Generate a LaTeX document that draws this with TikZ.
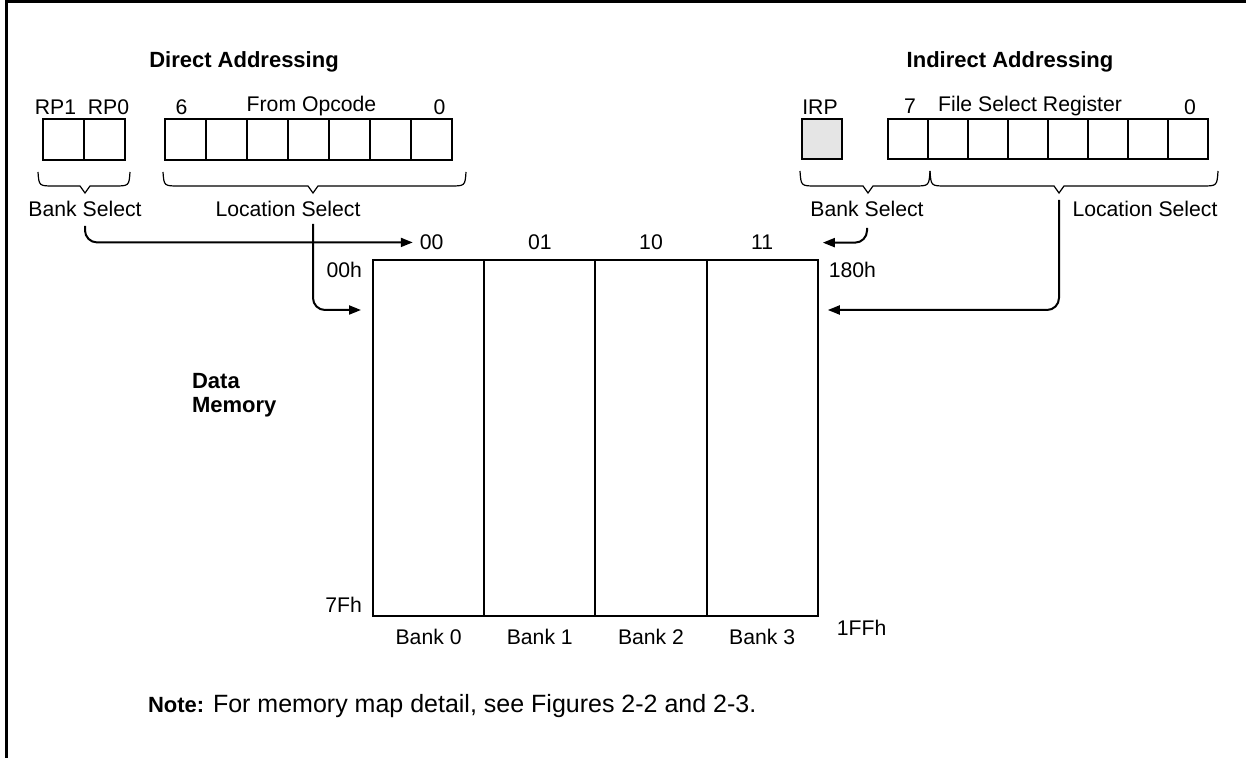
\documentclass[tikz,border=0pt]{standalone}
\usepackage{fontspec}
\setmainfont{Liberation Sans}
\usetikzlibrary{arrows.meta, positioning, calc}

\begin{document}
\begin{tikzpicture}[
    x=0.5pt, y=-0.5pt,
    font=\fontsize{10.6}{12.7}\selectfont,
    cell/.style={draw, line width=1pt, minimum width=20.5pt, minimum height=20.5pt, inner sep=0pt, outer sep=0pt, fill=#1},
    cell/.default=white,
    fcell/.style={cell=#1, minimum width=20pt, minimum height=20pt},
    fcell/.default=white,
    bank/.style={draw, line width=1pt, minimum width=55.6pt, minimum height=178pt, inner sep=0pt, outer sep=0pt},
    title/.style={font=\fontsize{11}{13}\selectfont\bfseries},
    arr/.style={-{Triangle[length=6pt, width=4.5pt]}, line width=1pt, rounded corners=6pt},
    brc/.style={line width=0.6pt},
    frame/.style={line width=1.5pt},
]
\useasboundingbox (0,0) rectangle (1246,758);

% Frame
\draw[frame] (1246,2) -- (6,2) -- (6,758);

% Titles
\node[title] (dtitle) at (244,62) {Direct Addressing};
\node[title] (ititle) at (1010,62) {Indirect Addressing};

% Direct addressing registers
\node[cell, anchor=north west] (rp1) at (43,119) {};
\node[cell, right=0pt of rp1] (rp0) {};
\node[cell, anchor=north west] (o6) at (165,119) {};
\node[cell, right=0pt of o6] (o5) {};
\node[cell, right=0pt of o5] (o4) {};
\node[cell, right=0pt of o4] (o3) {};
\node[cell, right=0pt of o3] (o2) {};
\node[cell, right=0pt of o2] (o1) {};
\node[cell, right=0pt of o1] (o0) {};

\node[above=-1.5pt of rp1, xshift=-4pt] (lrp1) {RP1};
\node[above=-1.5pt of rp0, xshift=2pt] (lrp0) {RP0};
\node[above=-1.5pt of o6, xshift=-2pt] (lo6) {6};
\node[above=0pt of o3, xshift=1.5pt, text depth=0pt] (lop) {From Opcode};
\node[above=-1.5pt of o0, xshift=4pt] (lo0) {0};

% Indirect addressing registers
\node[fcell=black!10, anchor=north west] (irp) at (802,119) {};
\node[fcell, anchor=north west] (f7) at (888,119) {};
\node[fcell, right=0pt of f7] (f6) {};
\node[fcell, right=0pt of f6] (f5) {};
\node[fcell, right=0pt of f5] (f4) {};
\node[fcell, right=0pt of f4] (f3) {};
\node[fcell, right=0pt of f3] (f2) {};
\node[fcell, right=0pt of f2] (f1) {};
\node[fcell, right=0pt of f1] (f0) {};

\node[above=-1.5pt of irp, xshift=-1pt] (lirp) {IRP};
\node[above=-1pt of f7, xshift=1pt] (lf7) {7};
\node[above=0pt of f4, xshift=1pt, text depth=0pt] (lfsr) {File Select Register};
\node[above=-1.5pt of f0, xshift=1pt] (lf0) {0};

% Braces
\draw[brc] (38,172) .. controls (39,186) .. (54,186) -- (80,186) -- (85,193) -- (90,186) -- (114,186) .. controls (129,186) .. (130,172);
\draw[brc] (163,172) .. controls (164,186) .. (179,186) -- (308,186) -- (313,193) -- (318,186) -- (450,186) .. controls (465,186) .. (466,172);
\draw[brc] (800,171) .. controls (801,186) .. (816,186) -- (863,186) -- (868,193) -- (873,186) -- (914,186) .. controls (929,186) .. (930,171);
\draw[brc] (930,171) .. controls (931,186) .. (946,186) -- (1054,186) -- (1059,193) -- (1064,186) -- (1202,186) .. controls (1217,186) .. (1218,171);
\coordinate (tipL) at (313,193);
\coordinate (tipR) at (1059,193);

\node (bsL) at (85,209) {Bank Select};
\node (lsL) at (288,209) {Location Select};
\node (bsR) at (867,209) {Bank Select};
\node (lsR) at (1145,209) {Location Select};

% Data memory banks
\node[bank, anchor=north west] (bank0) at (373,260) {};
\node[bank, right=0pt of bank0] (bank1) {};
\node[bank, right=0pt of bank1] (bank2) {};
\node[bank, right=0pt of bank2] (bank3) {};

\node[above=1.5pt of bank0, xshift=1.5pt] (b00) {00};
\node[above=1.5pt of bank1] (b01) {01};
\node[above=1.5pt of bank2] (b10) {10};
\node[above=1.5pt of bank3] (b11) {11};

\node[below=3pt of bank0] (lb0) {Bank 0};
\node[below=3pt of bank1] (lb1) {Bank 1};
\node[below=3pt of bank2] (lb2) {Bank 2};
\node[below=3pt of bank3] (lb3) {Bank 3};

\node[anchor=east] (h00) at ([xshift=-2pt, yshift=-5pt]bank0.north west) {00h};
\node[anchor=west] (h180) at ([xshift=2pt, yshift=-5pt]bank3.north east) {180h};
\node[anchor=east] (h7f) at ([xshift=-2pt, yshift=5.5pt]bank0.south west) {7Fh};
\node[anchor=west] (h1ff) at ([xshift=6pt, yshift=-6pt]bank3.south east) {1FFh};

\node[title, anchor=west, align=left] (dmem) at (185,395) {Data\\[-1pt]Memory};

% Select paths
\draw[arr] ([yshift=-1pt]bsL.south) |- (b00.west);
\draw[arr] (tipL |- lsL.south) |- ($(bank0.north west)+(-6pt,-25pt)$);
\draw[arr] ([yshift=-2pt]bsR.south) |- ($(bank3.north east |- b11)+(2.5pt,0)$);
\draw[arr] ([yshift=-3.5pt]tipR) |- ($(bank3.north east)+(5pt,-25pt)$);

% Note
\node[title, anchor=base west] (note) at (141,712) {Note:};
\node[anchor=base west, font=\fontsize{12.5}{14}\selectfont] (notetxt) at (206,712) {For memory map detail, see Figures 2-2 and 2-3.};

\end{tikzpicture}
\end{document}
